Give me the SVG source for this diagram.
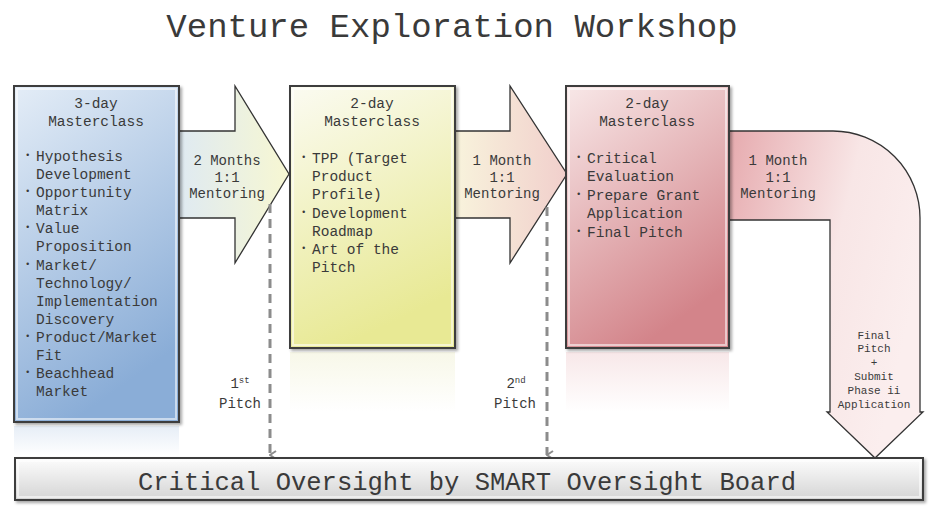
<svg xmlns="http://www.w3.org/2000/svg" width="933" height="507" viewBox="0 0 933 507">
<style>
text{font-family:"Liberation Mono","Courier New",monospace;fill:#3a3a3a;}
.t{font-size:14.5px;}
.h{font-size:14.5px;text-anchor:middle;}
.m{font-size:14px;text-anchor:middle;}
.s{font-size:11px;text-anchor:middle;}
.b{font-size:9px;}
.box{stroke:#3c3c3c;stroke-width:2;filter:url(#sh);}
.bev{fill:none;stroke:#fff;stroke-opacity:0.55;stroke-width:2;}
.arr{stroke:#333;stroke-width:1.3;}
.dash{stroke:#8c8c8c;stroke-width:3;stroke-dasharray:9 6;fill:none;marker-end:url(#ah);}
</style>
<defs>
<filter id="sh" x="-10%" y="-10%" width="125%" height="125%"><feDropShadow dx="2" dy="2" stdDeviation="1.8" flood-color="#000" flood-opacity="0.35"/></filter>
<linearGradient id="g1" x1="0" y1="0" x2="0.35" y2="1"><stop offset="0" stop-color="#e4edf7"/><stop offset="1" stop-color="#8aadd7"/></linearGradient>
<linearGradient id="g2" x1="0" y1="0" x2="0.3" y2="1"><stop offset="0" stop-color="#fbfbf2"/><stop offset="1" stop-color="#e8e994"/></linearGradient>
<linearGradient id="g3" x1="0" y1="0" x2="0.45" y2="1"><stop offset="0" stop-color="#f8e8e8"/><stop offset="1" stop-color="#d3848a"/></linearGradient>
<linearGradient id="a1" x1="0" y1="0" x2="1" y2="0"><stop offset="0" stop-color="#dfeaf2"/><stop offset="1" stop-color="#f7f7d2"/></linearGradient>
<linearGradient id="a2" x1="0" y1="0" x2="1" y2="0"><stop offset="0" stop-color="#f8f3dc"/><stop offset="1" stop-color="#f1cfcc"/></linearGradient>
<linearGradient id="a3" x1="0" y1="0" x2="1" y2="0.4"><stop offset="0" stop-color="#e6aaae"/><stop offset="0.6" stop-color="#f8e6e6"/><stop offset="1" stop-color="#fbeeee"/></linearGradient>
<linearGradient id="bar" x1="0" y1="0" x2="0" y2="1"><stop offset="0" stop-color="#fdfdfd"/><stop offset="1" stop-color="#d4d4d4"/></linearGradient>
<linearGradient id="r1" x1="0" y1="0" x2="0" y2="1"><stop offset="0" stop-color="#c8d8ec" stop-opacity="0.45"/><stop offset="1" stop-color="#c8d8ec" stop-opacity="0"/></linearGradient>
<linearGradient id="r2" x1="0" y1="0" x2="0" y2="1"><stop offset="0" stop-color="#f1f1d6" stop-opacity="0.55"/><stop offset="1" stop-color="#f1f1d6" stop-opacity="0"/></linearGradient>
<linearGradient id="r3" x1="0" y1="0" x2="0" y2="1"><stop offset="0" stop-color="#f0d0d2" stop-opacity="0.5"/><stop offset="1" stop-color="#f0d0d2" stop-opacity="0"/></linearGradient>
<marker id="ah" viewBox="0 0 10 8" refX="5" refY="7" markerWidth="10" markerHeight="8" markerUnits="userSpaceOnUse" orient="auto-start-reverse"><path d="M1,1 L5,7 L9,1" fill="none" stroke="#8c8c8c" stroke-width="2"/></marker>
</defs>
<rect width="933" height="507" fill="#fff"/>
<text id="title" x="452" y="37" style="font-size:34px;text-anchor:middle">Venture Exploration Workshop</text>

<g id="reflections">
<rect x="14" y="426" width="165" height="30" fill="url(#r1)"/>
<rect x="290" y="352" width="165" height="60" fill="url(#r2)"/>
<rect x="566" y="352" width="163" height="60" fill="url(#r3)"/>
</g>

<g id="connectors">
<g id="arrow1">
<polygon class="arr" points="179,131 235,131 235,86 289,174 235,263 235,218 179,218" fill="url(#a1)"/>
<text class="m" x="227" y="165">2 Months</text>
<text class="m" x="227" y="182">1:1</text>
<text class="m" x="227" y="198">Mentoring</text>
</g>
<g id="arrow2">
<polygon class="arr" points="455,131 510,131 510,86 567,174 510,263 510,218 455,218" fill="url(#a2)"/>
<text class="m" x="502" y="165">1 Month</text>
<text class="m" x="502" y="182">1:1</text>
<text class="m" x="502" y="198">Mentoring</text>
</g>
<g id="arrow3">
<path class="arr" d="M729,131 L833,131 A87,87 0 0 1 920,218 L920,412 L923,412 L875,458 L827,412 L830,412 L830,220 L729,220 Z" fill="url(#a3)"/>
<text class="m" x="778" y="165">1 Month</text>
<text class="m" x="778" y="182">1:1</text>
<text class="m" x="778" y="198">Mentoring</text>
<text class="s" x="874" y="339">Final</text>
<text class="s" x="874" y="352">Pitch</text>
<text class="s" x="874" y="366">+</text>
<text class="s" x="874" y="380">Submit</text>
<text class="s" x="874" y="394">Phase ii</text>
<text class="s" x="874" y="408">Application</text>
</g>
<g id="pitch1">
<line class="dash" x1="270" y1="204" x2="270" y2="455"/>
<text class="m" x="240" y="388">1<tspan style="font-size:9px" dy="-5">st</tspan></text>
<text class="m" x="240" y="408">Pitch</text>
</g>
<g id="pitch2">
<line class="dash" x1="547" y1="207" x2="547" y2="455"/>
<text class="m" x="516" y="388">2<tspan style="font-size:9px" dy="-5">nd</tspan></text>
<text class="m" x="515" y="408">Pitch</text>
</g>
</g>

<g id="box1">
<rect class="box" x="14" y="86" width="165" height="336" fill="url(#g1)"/>
<rect class="bev" x="17" y="89" width="159" height="330"/>
<text class="h" x="96" y="108">3-day</text>
<text class="h" x="96" y="126">Masterclass</text>
<g class="t">
<text class="b" x="25" y="158">•</text>
<text x="36" y="161">Hypothesis</text>
<text x="36" y="179">Development</text>
<text class="b" x="25" y="194">•</text>
<text x="36" y="197">Opportunity</text>
<text x="36" y="215">Matrix</text>
<text class="b" x="25" y="230">•</text>
<text x="36" y="233">Value</text>
<text x="36" y="251">Proposition</text>
<text class="b" x="25" y="267">•</text>
<text x="36" y="270">Market/</text>
<text x="36" y="288">Technology/</text>
<text x="36" y="306">Implementation</text>
<text x="36" y="324">Discovery</text>
<text class="b" x="25" y="339">•</text>
<text x="36" y="342">Product/Market</text>
<text x="36" y="360">Fit</text>
<text class="b" x="25" y="375">•</text>
<text x="36" y="378">Beachhead</text>
<text x="36" y="396">Market</text>
</g>
</g>

<g id="box2">
<rect class="box" x="290" y="86" width="165" height="262" fill="url(#g2)"/>
<rect class="bev" x="293" y="89" width="159" height="256"/>
<text class="h" x="372" y="108">2-day</text>
<text class="h" x="372" y="126">Masterclass</text>
<g class="t">
<text class="b" x="301" y="160">•</text>
<text x="312" y="163">TPP (Target</text>
<text x="312" y="181">Product</text>
<text x="312" y="199">Profile)</text>
<text class="b" x="301" y="215">•</text>
<text x="312" y="218">Development</text>
<text x="312" y="236">Roadmap</text>
<text class="b" x="301" y="251">•</text>
<text x="312" y="254">Art of the</text>
<text x="312" y="272">Pitch</text>
</g>
</g>

<g id="box3">
<rect class="box" x="566" y="86" width="163" height="262" fill="url(#g3)"/>
<rect class="bev" x="569" y="89" width="157" height="256"/>
<text class="h" x="647" y="108">2-day</text>
<text class="h" x="647" y="126">Masterclass</text>
<g class="t">
<text class="b" x="576" y="160">•</text>
<text x="587" y="163">Critical</text>
<text x="587" y="181">Evaluation</text>
<text class="b" x="576" y="197">•</text>
<text x="587" y="200">Prepare Grant</text>
<text x="587" y="218">Application</text>
<text class="b" x="576" y="234">•</text>
<text x="587" y="237">Final Pitch</text>
</g>
</g>

<g id="board">
<rect class="box" x="15" y="458" width="908" height="42" fill="url(#bar)"/>
<rect class="bev" x="18" y="461" width="902" height="36"/>
<text x="467" y="490" style="font-size:25.5px;text-anchor:middle">Critical Oversight by SMART Oversight Board</text>
</g>
</svg>
